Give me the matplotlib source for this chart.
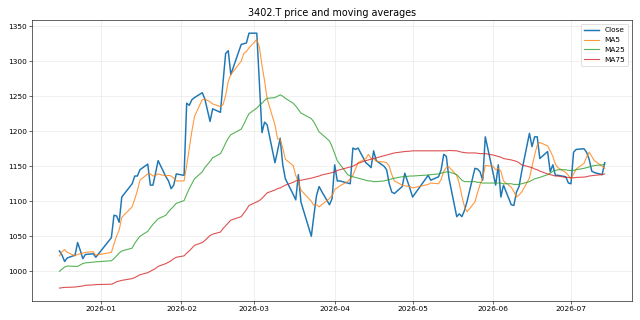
import matplotlib
matplotlib.use("Agg")
import matplotlib.pyplot as plt
import matplotlib.dates as mdates
import pandas as pd

# trading days (TSE calendar) shown in the chart
jp_holidays = ["2025-12-31", "2026-01-01", "2026-01-02", "2026-01-12", "2026-02-11",
               "2026-02-23", "2026-03-20", "2026-04-29", "2026-05-04", "2026-05-05",
               "2026-05-06"]
dates = pd.bdate_range("2025-12-16", "2026-07-14", freq="C", holidays=jp_holidays)

close = [1029, 1023, 1014, 1019, 1023, 1041, 1030, 1018, 1024, 1025, 1020,
         1048, 1080, 1079, 1070, 1106, 1125, 1136, 1136, 1145, 1153, 1123, 1123, 1140, 1158,
         1135, 1129, 1118, 1123, 1139,
         1137, 1240, 1237, 1245, 1248, 1255, 1246, 1214, 1232, 1227, 1270, 1311, 1315, 1281,
         1324, 1325, 1326, 1340,
         1340, 1268, 1198, 1213, 1209, 1155, 1172, 1190, 1152, 1132, 1110, 1102, 1138, 1099,
         1050, 1080, 1108, 1121, 1114, 1095, 1104,
         1152, 1129, 1129, 1126, 1125, 1176, 1174, 1176, 1155, 1152, 1148, 1172, 1158,
         1150, 1145, 1125, 1113, 1111, 1121, 1140, 1118,
         1106, 1137, 1130, 1135, 1145, 1167, 1164, 1133, 1078, 1082, 1078, 1087, 1100,
         1147, 1146, 1142, 1130, 1192,
         1140, 1123, 1152, 1106, 1123, 1095, 1094, 1113, 1121, 1142, 1197, 1178, 1192, 1192,
         1161, 1171, 1142, 1152, 1137, 1137, 1135, 1126,
         1125, 1170, 1174, 1175, 1170, 1160, 1143, 1141, 1138, 1155]

ma5 = [1022, 1028, 1031, 1027, 1022, 1024, 1025, 1026, 1027, 1028, 1023,
       1027, 1039, 1050, 1059, 1077, 1092, 1103, 1115, 1130, 1139, 1139, 1136, 1137, 1139,
       1136, 1137, 1136, 1133, 1129,
       1129, 1151, 1175, 1200, 1221, 1245, 1246, 1242, 1239, 1235, 1238, 1251, 1271, 1281,
       1300, 1311, 1314, 1319,
       1331, 1320, 1294, 1272, 1246, 1209, 1189, 1188, 1176, 1160, 1151, 1137, 1127, 1116,
       1100, 1094, 1095, 1092, 1095, 1104, 1108,
       1117, 1119, 1122, 1128, 1132, 1137, 1146, 1155, 1161, 1167, 1161, 1161, 1157,
       1156, 1155, 1150, 1138, 1129, 1123, 1122, 1121,
       1119, 1124, 1126, 1125, 1131, 1143, 1148, 1149, 1137, 1125, 1107, 1092, 1085,
       1099, 1112, 1124, 1133, 1151,
       1150, 1145, 1147, 1143, 1129, 1120, 1114, 1106, 1109, 1113, 1133, 1150, 1166, 1180,
       1184, 1179, 1172, 1164, 1153, 1148, 1141, 1137,
       1132, 1139, 1146, 1154, 1163, 1170, 1164, 1158, 1150, 1147]

ma25 = [1000, 1003, 1006, 1007.5, 1007, 1007, 1009, 1011, 1012, 1013, 1013.5,
        1015, 1018, 1022, 1026, 1029, 1033, 1040, 1045, 1050, 1057, 1062, 1067, 1071, 1075,
        1080, 1085, 1089, 1093, 1097,
        1101, 1110, 1118, 1125, 1132, 1142, 1148, 1157, 1162, 1168, 1175, 1183, 1190, 1195,
        1203, 1210, 1218, 1225,
        1233, 1237, 1240, 1244, 1247, 1248, 1250, 1252, 1250, 1247, 1240, 1236, 1231, 1226,
        1218, 1213, 1206, 1199, 1196, 1186, 1178,
        1168, 1158, 1153, 1138, 1136, 1135, 1134, 1133, 1130, 1129, 1129, 1128, 1128,
        1129, 1130, 1131, 1132, 1133, 1135, 1135, 1136,
        1136, 1137.5, 1138, 1139, 1140, 1141, 1142, 1142, 1138, 1134, 1130, 1128, 1128,
        1128, 1127, 1127, 1126, 1126,
        1126, 1126, 1126, 1126, 1125, 1125, 1124, 1124, 1124, 1125, 1128, 1130, 1132, 1133,
        1134, 1138, 1140, 1143, 1144, 1145, 1145, 1144,
        1144, 1144, 1145, 1147, 1148, 1149, 1150, 1151, 1152, 1153]

ma75 = [976, 976.5, 977, 977, 977.5, 978, 978.5, 979, 980, 980.5, 981,
        981.5, 983, 985, 986, 987, 989.5, 991, 993, 995, 998, 1000, 1002, 1004, 1007,
        1011, 1013, 1015, 1018, 1020,
        1022, 1026, 1029, 1033, 1037, 1041, 1044, 1051, 1053, 1056, 1061, 1065, 1069, 1073,
        1078, 1083, 1088, 1094,
        1099, 1101, 1104, 1108, 1112, 1116, 1118, 1119, 1121, 1123, 1127, 1129, 1130, 1130,
        1133, 1134, 1135, 1136, 1137.5, 1140, 1141,
        1142, 1144, 1145, 1148, 1149, 1150, 1152, 1154, 1158, 1159, 1160, 1161, 1162,
        1165, 1166, 1167, 1168, 1169, 1170.5, 1171, 1171.5,
        1172, 1172, 1172, 1172, 1172, 1172, 1172, 1172.5, 1172, 1171, 1170, 1169.5, 1169,
        1169, 1168.5, 1168, 1168, 1168,
        1166, 1165, 1164, 1163, 1161, 1159, 1158, 1157, 1155, 1152, 1149, 1148, 1146, 1145,
        1143, 1139, 1138, 1137, 1136, 1136, 1134, 1134,
        1133.5, 1133.5, 1134, 1134.5, 1135, 1136, 1136.5, 1137, 1138, 1139]

fig, ax = plt.subplots(figsize=(12, 6), dpi=160 / 3)
ax.plot(dates, close, label="Close", linewidth=2)
ax.plot(dates, ma5, label="MA5", linewidth=1.5, alpha=0.8)
ax.plot(dates, ma25, label="MA25", linewidth=1.5, alpha=0.8)
ax.plot(dates, ma75, label="MA75", linewidth=1.5, alpha=0.8)
ax.set_title("3402.T price and moving averages", fontsize=13)
ax.xaxis.set_major_locator(mdates.MonthLocator())
ax.xaxis.set_major_formatter(mdates.DateFormatter("%Y-%m"))
ax.grid(True, alpha=0.3)
ax.legend(loc="upper right")
fig.tight_layout()
fig.savefig("out.png", dpi=160 / 3)
